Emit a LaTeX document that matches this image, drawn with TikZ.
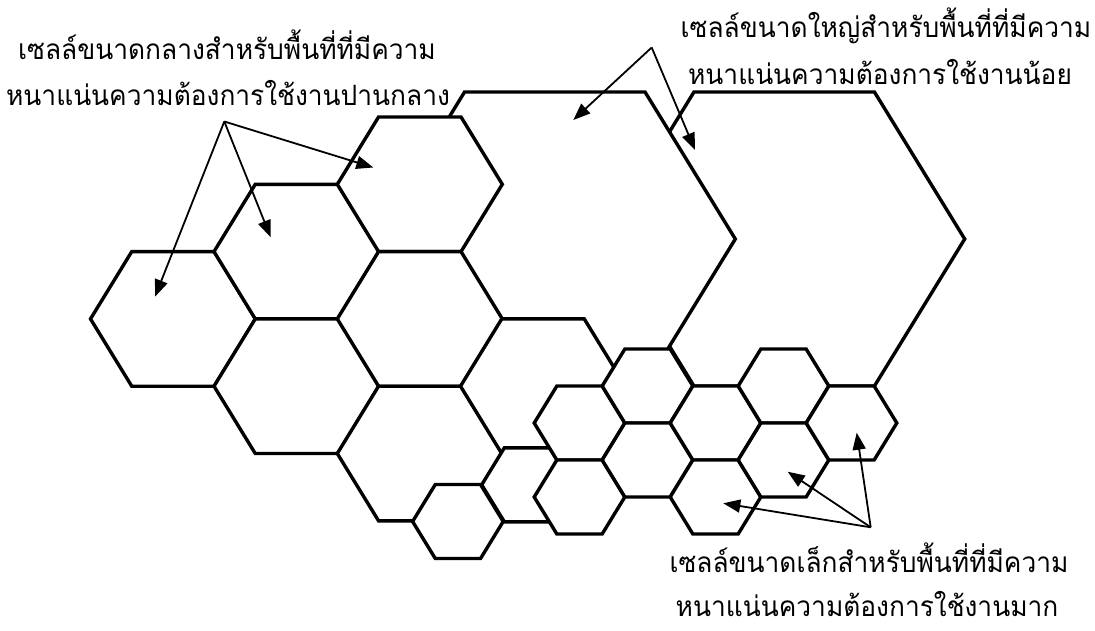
\documentclass[tikz,border=0pt]{standalone}
\usepackage{fontspec}
\newfontfamily\thaifont[Script=Thai,FakeStretch=0.94]{Loma}
\usetikzlibrary{arrows.meta}
\newcommand{\hexcell}[5]{% name, cx, cy, R, a
  \coordinate (#1) at (#2,#3);
  \draw[cell] ({#2-#4},#3) -- ({#2-#4/2},{#3-#5}) -- ({#2+#4/2},{#3-#5})
    -- ({#2+#4},#3) -- ({#2+#4/2},{#3+#5}) -- ({#2-#4/2},{#3+#5}) -- cycle;}
\begin{document}
\begin{tikzpicture}[x=1pt,y=-1pt,
  cell/.style={draw=black,fill=white,line width=3.4pt,line join=miter},
  pointer/.style={draw=black,line width=1.8pt,-{Triangle[length=17pt,width=13pt]}},
  lbl/.style={font=\thaifont\fontsize{28}{34}\selectfont,inner sep=0pt,anchor=base}]
\useasboundingbox (0,0) rectangle (1095,630);
% large cells
\hexcell{L2}{784.2}{239}{180.5}{147}
\hexcell{L1}{554.8}{239}{180.5}{147}
% medium cells
\hexcell{M1}{173}{318.9}{82.5}{67.3}
\hexcell{M2}{296.5}{251.6}{82.5}{67.3}
\hexcell{M3}{296.5}{386.2}{82.5}{67.3}
\hexcell{M4}{419.8}{184.3}{82.5}{67.3}
\hexcell{M5}{419.8}{318.9}{82.5}{67.3}
\hexcell{M6}{419.8}{453.5}{82.5}{67.3}
\hexcell{M7}{543}{386.2}{82.5}{67.3}
% small cells
\hexcell{SA}{457.9}{521.5}{45.3}{37}
\hexcell{SB}{527}{484.8}{45.3}{37}
\hexcell{SD}{579.5}{423}{45.3}{37}
\hexcell{SE}{579.5}{497}{45.3}{37}
\hexcell{SC}{647.5}{386}{45.3}{37}
\hexcell{SF}{647.5}{460}{45.3}{37}
\hexcell{SG}{715.5}{423}{45.3}{37}
\hexcell{SH}{715.5}{497}{45.3}{37}
\hexcell{SI}{783.5}{386}{45.3}{37}
\hexcell{SJ}{783.5}{460}{45.3}{37}
\hexcell{SK}{851.5}{423}{45.3}{37}
% labels
\node[lbl] (tm1) at (227,59) {เซลล์ขนาดกลางสำหรับพื้นที่ที่มีความ};
\node[lbl] (tm2) at (228,105) {หนาแน่นความต้องการใช้งานปานกลาง};
\node[lbl] (tl1) at (886,37) {เซลล์ขนาดใหญ่สำหรับพื้นที่ที่มีความ};
\node[lbl] (tl2) at (880,84) {หนาแน่นความต้องการใช้งานน้อย};
\node[lbl] (ts1) at (869,572) {เซลล์ขนาดเล็กสำหรับพื้นที่ที่มีความ};
\node[lbl] (ts2) at (867,616) {หนาแน่นความต้องการใช้งานมาก};
% arrow anchors
\coordinate (srcM) at (224.3,121.5);
\coordinate (tM1) at (373.3,167.5);
\coordinate (tM2) at (270.7,237.3);
\coordinate (tM3) at (155,296.7);
\coordinate (srcL) at (651.7,47.5);
\coordinate (tL1) at (573.3,120);
\coordinate (tL2) at (695,150);
\coordinate (srcS) at (870.7,527.3);
\coordinate (tS1) at (856.7,432.7);
\coordinate (tS2) at (787.7,471.7);
\coordinate (tS3) at (723.3,503.3);
\draw[pointer] (srcM) -- (tM1);
\draw[pointer] (srcM) -- (tM2);
\draw[pointer] (srcM) -- (tM3);
\draw[pointer] (srcL) -- (tL1);
\draw[pointer] (srcL) -- (tL2);
\draw[pointer] (srcS) -- (tS1);
\draw[pointer] (srcS) -- (tS2);
\draw[pointer] (srcS) -- (tS3);
\end{tikzpicture}
\end{document}
